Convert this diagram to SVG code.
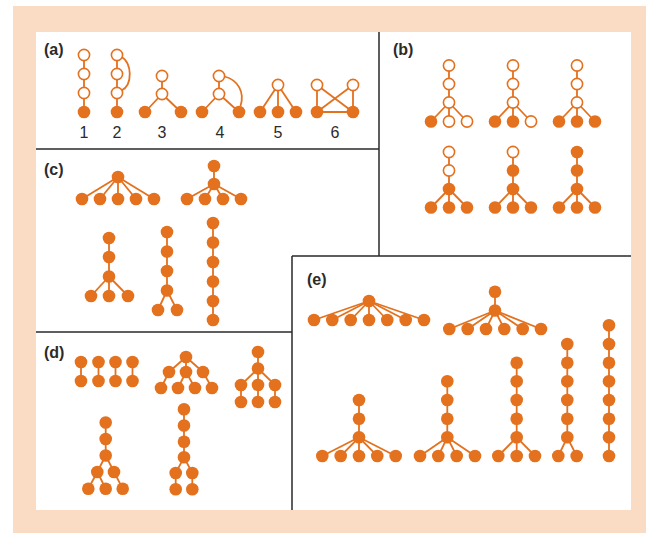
<svg xmlns="http://www.w3.org/2000/svg" width="646" height="533" viewBox="0 0 646 533">
<style>
.f{fill:#E3711E}
.o{fill:#fff;stroke:#E3711E;stroke-width:1.6}
.e line,.e path{stroke:#E3711E;stroke-width:1.8;fill:none}
.b{stroke:#2a2a2a;stroke-width:1.5;fill:none}
.lbl{font-family:"Liberation Sans",Arial,sans-serif;font-weight:bold;font-size:16px;fill:#2b2b2b}
.num{font-family:"Liberation Sans",Arial,sans-serif;font-size:16px;fill:#2b2b2b;text-anchor:middle}
</style>
<rect x="0" y="0" width="646" height="533" fill="#fff"/>
<rect x="13" y="6" width="633" height="527" fill="#F9DCC3"/>
<rect x="36" y="32" width="595" height="478" fill="#fff"/>
<g id="borders">
<path class="b" d="M36,149H379M379,32V256M292,256H631M292,256V510M36,332H292"/>
</g>
<g id="labels">
<text class="lbl" x="44" y="55">(a)</text>
<text class="lbl" x="393" y="55">(b)</text>
<text class="lbl" x="44" y="175">(c)</text>
<text class="lbl" x="44" y="358">(d)</text>
<text class="lbl" x="307" y="285">(e)</text>
<text class="num" x="84" y="138">1</text>
<text class="num" x="117" y="138">2</text>
<text class="num" x="162" y="138">3</text>
<text class="num" x="220" y="138">4</text>
<text class="num" x="278" y="138">5</text>
<text class="num" x="335" y="138">6</text>
</g>
<g id="connectors" class="e">
<!-- a -->
<line x1="84" y1="55" x2="84" y2="112"/>
<line x1="117" y1="55" x2="117" y2="112"/>
<path d="M121.5,57C132,62 133,85 121.5,90.5"/>
<line x1="162" y1="76" x2="162" y2="94"/><line x1="162" y1="94" x2="145" y2="112"/><line x1="162" y1="94" x2="181" y2="112"/>
<line x1="219" y1="76" x2="219" y2="94"/><line x1="219" y1="94" x2="202" y2="112"/><line x1="219" y1="94" x2="239" y2="112"/>
<path d="M224.5,76.5C238,80 245,92 240.5,106"/>
<line x1="278" y1="85" x2="260" y2="112"/><line x1="278" y1="85" x2="278" y2="112"/><line x1="278" y1="85" x2="296" y2="112"/>
<line x1="317" y1="85" x2="317" y2="112"/><line x1="353" y1="85" x2="353" y2="112"/><line x1="317" y1="85" x2="353" y2="112"/><line x1="353" y1="85" x2="317" y2="112"/><line x1="317" y1="112" x2="353" y2="112"/>
<!-- b -->
<line x1="449" y1="65.5" x2="449" y2="121.5"/><line x1="449" y1="102.5" x2="431" y2="121.5"/><line x1="449" y1="102.5" x2="467" y2="121.5"/>
<line x1="513" y1="65.5" x2="513" y2="121.5"/><line x1="513" y1="102.5" x2="495" y2="121.5"/><line x1="513" y1="102.5" x2="531" y2="121.5"/>
<line x1="577" y1="65.5" x2="577" y2="121.5"/><line x1="577" y1="102.5" x2="559" y2="121.5"/><line x1="577" y1="102.5" x2="595" y2="121.5"/>
<line x1="449" y1="152" x2="449" y2="207.5"/><line x1="449" y1="189" x2="431" y2="207.5"/><line x1="449" y1="189" x2="467" y2="207.5"/>
<line x1="513" y1="152" x2="513" y2="207.5"/><line x1="513" y1="189" x2="495" y2="207.5"/><line x1="513" y1="189" x2="531" y2="207.5"/>
<line x1="577" y1="152" x2="577" y2="207.5"/><line x1="577" y1="189" x2="559" y2="207.5"/><line x1="577" y1="189" x2="595" y2="207.5"/>
<!-- c -->
<line x1="118" y1="177" x2="82" y2="199"/><line x1="118" y1="177" x2="100" y2="199"/><line x1="118" y1="177" x2="118" y2="199"/><line x1="118" y1="177" x2="136" y2="199"/><line x1="118" y1="177" x2="154" y2="199"/>
<line x1="214" y1="166" x2="214" y2="184"/><line x1="214" y1="184" x2="187" y2="199"/><line x1="214" y1="184" x2="205" y2="199"/><line x1="214" y1="184" x2="223" y2="199"/><line x1="214" y1="184" x2="241" y2="199"/>
<line x1="109" y1="238" x2="109" y2="296"/><line x1="109" y1="276.5" x2="91" y2="296"/><line x1="109" y1="276.5" x2="128" y2="296"/>
<line x1="167" y1="232" x2="167" y2="290.5"/><line x1="167" y1="290.5" x2="158" y2="310"/><line x1="167" y1="290.5" x2="177" y2="310"/>
<line x1="213" y1="223" x2="213" y2="320"/>
<!-- d -->
<line x1="81" y1="362" x2="81" y2="381"/><line x1="98.5" y1="362" x2="98.5" y2="381"/><line x1="115.5" y1="362" x2="115.5" y2="381"/><line x1="132.5" y1="362" x2="132.5" y2="381"/>
<line x1="186" y1="357" x2="169" y2="372"/><line x1="186" y1="357" x2="186" y2="372"/><line x1="186" y1="357" x2="203" y2="372"/>
<line x1="169" y1="372" x2="161" y2="388"/><line x1="186" y1="372" x2="178" y2="388"/><line x1="186" y1="372" x2="195" y2="388"/><line x1="203" y1="372" x2="212" y2="388"/>
<line x1="258" y1="352" x2="258" y2="402"/><line x1="258" y1="368.5" x2="241" y2="385"/><line x1="258" y1="368.5" x2="275" y2="385"/><line x1="241" y1="385" x2="241" y2="402"/><line x1="275" y1="385" x2="275" y2="402"/>
<line x1="105.7" y1="422.5" x2="105.7" y2="455.5"/><line x1="105.7" y1="455.5" x2="97.3" y2="472"/><line x1="105.7" y1="455.5" x2="114" y2="472"/>
<line x1="97.3" y1="472" x2="88.3" y2="488.7"/><line x1="97.3" y1="472" x2="105.7" y2="488.7"/><line x1="114" y1="472" x2="122.7" y2="488.7"/>
<line x1="184" y1="409.3" x2="184" y2="457.3"/><line x1="184" y1="457.3" x2="175.7" y2="473"/><line x1="184" y1="457.3" x2="192.3" y2="473"/><line x1="175.7" y1="473" x2="175.7" y2="489.3"/><line x1="192.3" y1="473" x2="192.3" y2="489.3"/>
<!-- e -->
<line x1="369" y1="301" x2="314" y2="320"/><line x1="369" y1="301" x2="332.3" y2="320"/><line x1="369" y1="301" x2="350.7" y2="320"/><line x1="369" y1="301" x2="369" y2="320"/><line x1="369" y1="301" x2="387.3" y2="320"/><line x1="369" y1="301" x2="405.7" y2="320"/><line x1="369" y1="301" x2="424" y2="320"/>
<line x1="495" y1="291.7" x2="495" y2="310.5"/><line x1="495" y1="310.5" x2="449.3" y2="329"/><line x1="495" y1="310.5" x2="467.7" y2="329"/><line x1="495" y1="310.5" x2="486" y2="329"/><line x1="495" y1="310.5" x2="504.3" y2="329"/><line x1="495" y1="310.5" x2="522.7" y2="329"/><line x1="495" y1="310.5" x2="541" y2="329"/>
<line x1="359" y1="400" x2="359" y2="456"/><line x1="359" y1="437.3" x2="322.3" y2="456"/><line x1="359" y1="437.3" x2="340.7" y2="456"/><line x1="359" y1="437.3" x2="377.3" y2="456"/><line x1="359" y1="437.3" x2="395.7" y2="456"/>
<line x1="447.3" y1="381.3" x2="447.3" y2="437.3"/><line x1="447.3" y1="437.3" x2="420" y2="456"/><line x1="447.3" y1="437.3" x2="438.3" y2="456"/><line x1="447.3" y1="437.3" x2="456.7" y2="456"/><line x1="447.3" y1="437.3" x2="475" y2="456"/>
<line x1="516.7" y1="362.7" x2="516.7" y2="456"/><line x1="516.7" y1="437.3" x2="498.3" y2="456"/><line x1="516.7" y1="437.3" x2="535" y2="456"/>
<line x1="567.3" y1="344" x2="567.3" y2="437.3"/><line x1="567.3" y1="437.3" x2="558.3" y2="456"/><line x1="567.3" y1="437.3" x2="576.7" y2="456"/>
<line x1="609" y1="325.3" x2="609" y2="456"/>
</g>
<g id="nodes">
<g id="a1"><circle class="o" cx="84" cy="55" r="5.6"/><circle class="o" cx="84" cy="74" r="5.6"/><circle class="o" cx="84" cy="93" r="5.6"/><circle class="f" cx="84" cy="112" r="6.3"/></g>
<g id="a2"><circle class="o" cx="117" cy="55" r="5.6"/><circle class="o" cx="117" cy="74" r="5.6"/><circle class="o" cx="117" cy="93" r="5.6"/><circle class="f" cx="117" cy="112" r="6.3"/></g>
<g id="a3"><circle class="o" cx="162" cy="76" r="5.6"/><circle class="o" cx="162" cy="94" r="5.6"/><circle class="f" cx="145" cy="112" r="6.3"/><circle class="f" cx="181" cy="112" r="6.3"/></g>
<g id="a4"><circle class="o" cx="219" cy="76" r="5.6"/><circle class="o" cx="219" cy="94" r="5.6"/><circle class="f" cx="202" cy="112" r="6.3"/><circle class="f" cx="239" cy="112" r="6.3"/></g>
<g id="a5"><circle class="o" cx="278" cy="85" r="5.6"/><circle class="f" cx="260" cy="112" r="6.3"/><circle class="f" cx="278" cy="112" r="6.3"/><circle class="f" cx="296" cy="112" r="6.3"/></g>
<g id="a6"><circle class="o" cx="317" cy="85" r="5.6"/><circle class="o" cx="353" cy="85" r="5.6"/><circle class="f" cx="317" cy="112" r="6.3"/><circle class="f" cx="353" cy="112" r="6.3"/></g>
<g id="b1"><circle class="o" cx="449" cy="65.5" r="5.6"/><circle class="o" cx="449" cy="84" r="5.6"/><circle class="o" cx="449" cy="102.5" r="5.6"/><circle class="f" cx="431" cy="121.5" r="6.3"/><circle class="o" cx="449" cy="121.5" r="5.6"/><circle class="o" cx="467" cy="121.5" r="5.6"/></g>
<g id="b2"><circle class="o" cx="513" cy="65.5" r="5.6"/><circle class="o" cx="513" cy="84" r="5.6"/><circle class="o" cx="513" cy="102.5" r="5.6"/><circle class="f" cx="495" cy="121.5" r="6.3"/><circle class="f" cx="513" cy="121.5" r="6.3"/><circle class="o" cx="531" cy="121.5" r="5.6"/></g>
<g id="b3"><circle class="o" cx="577" cy="65.5" r="5.6"/><circle class="o" cx="577" cy="84" r="5.6"/><circle class="o" cx="577" cy="102.5" r="5.6"/><circle class="f" cx="559" cy="121.5" r="6.3"/><circle class="f" cx="577" cy="121.5" r="6.3"/><circle class="f" cx="595" cy="121.5" r="6.3"/></g>
<g id="b4"><circle class="o" cx="449" cy="152" r="5.6"/><circle class="o" cx="449" cy="170.5" r="5.6"/><circle class="f" cx="449" cy="189" r="6.3"/><circle class="f" cx="431" cy="207.5" r="6.3"/><circle class="f" cx="449" cy="207.5" r="6.3"/><circle class="f" cx="467" cy="207.5" r="6.3"/></g>
<g id="b5"><circle class="o" cx="513" cy="152" r="5.6"/><circle class="f" cx="513" cy="170.5" r="6.3"/><circle class="f" cx="513" cy="189" r="6.3"/><circle class="f" cx="495" cy="207.5" r="6.3"/><circle class="f" cx="513" cy="207.5" r="6.3"/><circle class="f" cx="531" cy="207.5" r="6.3"/></g>
<g id="b6"><circle class="f" cx="577" cy="152" r="6.3"/><circle class="f" cx="577" cy="170.5" r="6.3"/><circle class="f" cx="577" cy="189" r="6.3"/><circle class="f" cx="559" cy="207.5" r="6.3"/><circle class="f" cx="577" cy="207.5" r="6.3"/><circle class="f" cx="595" cy="207.5" r="6.3"/></g>
<g id="c1" class="f"><circle cx="118" cy="177" r="6.3"/><circle cx="82" cy="199" r="6.3"/><circle cx="100" cy="199" r="6.3"/><circle cx="118" cy="199" r="6.3"/><circle cx="136" cy="199" r="6.3"/><circle cx="154" cy="199" r="6.3"/></g>
<g id="c2" class="f"><circle cx="214" cy="166" r="6.3"/><circle cx="214" cy="184" r="6.3"/><circle cx="187" cy="199" r="6.3"/><circle cx="205" cy="199" r="6.3"/><circle cx="223" cy="199" r="6.3"/><circle cx="241" cy="199" r="6.3"/></g>
<g id="c3" class="f"><circle cx="109" cy="238" r="6.3"/><circle cx="109" cy="257" r="6.3"/><circle cx="109" cy="276.5" r="6.3"/><circle cx="91" cy="296" r="6.3"/><circle cx="109" cy="296" r="6.3"/><circle cx="128" cy="296" r="6.3"/></g>
<g id="c4" class="f"><circle cx="167" cy="232" r="6.3"/><circle cx="167" cy="251.5" r="6.3"/><circle cx="167" cy="271" r="6.3"/><circle cx="167" cy="290.5" r="6.3"/><circle cx="158" cy="310" r="6.3"/><circle cx="177" cy="310" r="6.3"/></g>
<g id="c5" class="f"><circle cx="213" cy="223" r="6.3"/><circle cx="213" cy="242.5" r="6.3"/><circle cx="213" cy="262" r="6.3"/><circle cx="213" cy="281.5" r="6.3"/><circle cx="213" cy="301" r="6.3"/><circle cx="213" cy="320" r="6.3"/></g>
<g id="d1" class="f"><circle cx="81" cy="362" r="6.3"/><circle cx="98.5" cy="362" r="6.3"/><circle cx="115.5" cy="362" r="6.3"/><circle cx="132.5" cy="362" r="6.3"/><circle cx="81" cy="381" r="6.3"/><circle cx="98.5" cy="381" r="6.3"/><circle cx="115.5" cy="381" r="6.3"/><circle cx="132.5" cy="381" r="6.3"/></g>
<g id="d2" class="f"><circle cx="186" cy="357" r="6.3"/><circle cx="169" cy="372" r="6.3"/><circle cx="186" cy="372" r="6.3"/><circle cx="203" cy="372" r="6.3"/><circle cx="161" cy="388" r="6.3"/><circle cx="178" cy="388" r="6.3"/><circle cx="195" cy="388" r="6.3"/><circle cx="212" cy="388" r="6.3"/></g>
<g id="d3" class="f"><circle cx="258" cy="352" r="6.3"/><circle cx="258" cy="368.5" r="6.3"/><circle cx="241" cy="385" r="6.3"/><circle cx="258" cy="385" r="6.3"/><circle cx="275" cy="385" r="6.3"/><circle cx="241" cy="402" r="6.3"/><circle cx="258" cy="402" r="6.3"/><circle cx="275" cy="402" r="6.3"/></g>
<g id="d4" class="f"><circle cx="105.7" cy="422.5" r="6.3"/><circle cx="105.7" cy="439" r="6.3"/><circle cx="105.7" cy="455.5" r="6.3"/><circle cx="97.3" cy="472" r="6.3"/><circle cx="114" cy="472" r="6.3"/><circle cx="88.3" cy="488.7" r="6.3"/><circle cx="105.7" cy="488.7" r="6.3"/><circle cx="122.7" cy="488.7" r="6.3"/></g>
<g id="d5" class="f"><circle cx="184" cy="409.3" r="6.3"/><circle cx="184" cy="425.5" r="6.3"/><circle cx="184" cy="441.7" r="6.3"/><circle cx="184" cy="457.3" r="6.3"/><circle cx="175.7" cy="473" r="6.3"/><circle cx="192.3" cy="473" r="6.3"/><circle cx="175.7" cy="489.3" r="6.3"/><circle cx="192.3" cy="489.3" r="6.3"/></g>
<g id="e1" class="f"><circle cx="369" cy="301" r="6.3"/><circle cx="314" cy="320" r="6.3"/><circle cx="332.3" cy="320" r="6.3"/><circle cx="350.7" cy="320" r="6.3"/><circle cx="369" cy="320" r="6.3"/><circle cx="387.3" cy="320" r="6.3"/><circle cx="405.7" cy="320" r="6.3"/><circle cx="424" cy="320" r="6.3"/></g>
<g id="e2" class="f"><circle cx="495" cy="291.7" r="6.3"/><circle cx="495" cy="310.5" r="6.3"/><circle cx="449.3" cy="329" r="6.3"/><circle cx="467.7" cy="329" r="6.3"/><circle cx="486" cy="329" r="6.3"/><circle cx="504.3" cy="329" r="6.3"/><circle cx="522.7" cy="329" r="6.3"/><circle cx="541" cy="329" r="6.3"/></g>
<g id="e3" class="f"><circle cx="359" cy="400" r="6.3"/><circle cx="359" cy="418.7" r="6.3"/><circle cx="359" cy="437.3" r="6.3"/><circle cx="322.3" cy="456" r="6.3"/><circle cx="340.7" cy="456" r="6.3"/><circle cx="359" cy="456" r="6.3"/><circle cx="377.3" cy="456" r="6.3"/><circle cx="395.7" cy="456" r="6.3"/></g>
<g id="e4" class="f"><circle cx="447.3" cy="381.3" r="6.3"/><circle cx="447.3" cy="400" r="6.3"/><circle cx="447.3" cy="418.7" r="6.3"/><circle cx="447.3" cy="437.3" r="6.3"/><circle cx="420" cy="456" r="6.3"/><circle cx="438.3" cy="456" r="6.3"/><circle cx="456.7" cy="456" r="6.3"/><circle cx="475" cy="456" r="6.3"/></g>
<g id="e5" class="f"><circle cx="516.7" cy="362.7" r="6.3"/><circle cx="516.7" cy="381.3" r="6.3"/><circle cx="516.7" cy="400" r="6.3"/><circle cx="516.7" cy="418.7" r="6.3"/><circle cx="516.7" cy="437.3" r="6.3"/><circle cx="498.3" cy="456" r="6.3"/><circle cx="516.7" cy="456" r="6.3"/><circle cx="535" cy="456" r="6.3"/></g>
<g id="e6" class="f"><circle cx="567.3" cy="344" r="6.3"/><circle cx="567.3" cy="362.7" r="6.3"/><circle cx="567.3" cy="381.3" r="6.3"/><circle cx="567.3" cy="400" r="6.3"/><circle cx="567.3" cy="418.7" r="6.3"/><circle cx="567.3" cy="437.3" r="6.3"/><circle cx="558.3" cy="456" r="6.3"/><circle cx="576.7" cy="456" r="6.3"/></g>
<g id="e7" class="f"><circle cx="609" cy="325.3" r="6.3"/><circle cx="609" cy="344" r="6.3"/><circle cx="609" cy="362.7" r="6.3"/><circle cx="609" cy="381.3" r="6.3"/><circle cx="609" cy="400" r="6.3"/><circle cx="609" cy="418.7" r="6.3"/><circle cx="609" cy="437.3" r="6.3"/><circle cx="609" cy="456" r="6.3"/></g>
</g>
</svg>
